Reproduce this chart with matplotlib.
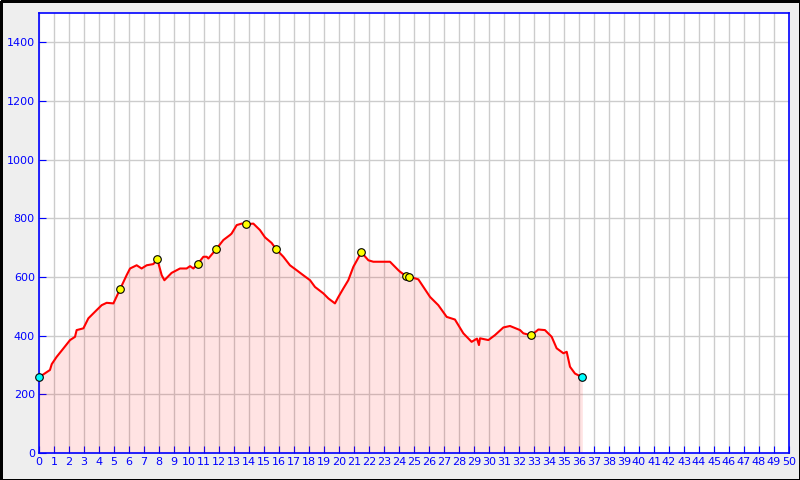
import numpy as np
import matplotlib
matplotlib.use("Agg")
import matplotlib.pyplot as plt
from matplotlib.patches import Rectangle

# elevation profile (km, m)
dist = [0, 0.73, 0.85, 1.18, 1.62, 2.07, 2.4, 2.51, 2.96, 3.29, 3.84, 4.18, 4.51, 4.96,
        5.4, 5.84, 6.07, 6.51, 6.84, 7.18, 7.62, 7.89, 8.18, 8.36, 8.84, 9.4, 9.84,
        10.07, 10.29, 10.6, 10.96, 11.18, 11.29, 11.8, 12.29, 12.73, 12.84, 13.18, 13.51,
        13.82, 14.29, 14.73, 15.07, 15.51, 15.82, 16.29, 16.73, 17.18, 17.62, 18.07,
        18.4, 18.96, 19.29, 19.73, 19.96, 20.29, 20.62, 20.96, 21.49, 21.96, 22.29,
        22.84, 23.4, 23.96, 24.07, 24.47, 24.69, 25.29, 26.07, 26.62, 27.18, 27.73,
        28.29, 28.84, 29.2, 29.33, 29.4, 29.96, 30.4, 30.96, 31.4, 32.07, 32.29, 32.82,
        33.29, 33.73, 34.18, 34.51, 34.96, 35.18, 35.4, 35.73, 36.22]
elev = [258, 283, 303, 328, 356, 385, 396, 419, 425, 459, 487, 504, 512, 510,
        558, 606, 629, 640, 629, 640, 644, 660, 606, 589, 614, 629, 629,
        637, 629, 646, 669, 669, 663, 694, 726, 743, 748, 777, 782,
        780, 782, 760, 735, 716, 694, 669, 640, 623, 606, 589,
        566, 544, 527, 510, 532, 561, 589, 635, 684, 657, 652,
        652, 652, 623, 618, 603, 601, 592, 532, 504, 464, 455,
        408, 379, 390, 368, 391, 385, 402, 428, 433, 419, 408, 401,
        421, 419, 396, 357, 340, 345, 294, 271, 258]

# waypoints
wp_x = [5.4, 7.89, 10.6, 11.8, 13.82, 15.82, 21.49, 24.47, 24.69, 32.82]
wp_y = [558, 660, 646, 694, 780, 694, 684, 603, 601, 401]
end_x = [0, 36.22]
end_y = [258, 258]

fig = plt.figure(figsize=(8, 4.8), dpi=100, facecolor="#eeeeee")
fig.patches.append(Rectangle((0.5/800, 0.5/480), 799/800, 479/480, transform=fig.transFigure,
                             fill=False, edgecolor="black", linewidth=1.0, antialiased=False))
ax = fig.add_axes([39/800, 27/480, 750/800, 440/480])
ax.set_facecolor("white")

ax.fill_between(dist, elev, 0, color="red", alpha=0.11, linewidth=0, zorder=2)
ax.plot(dist, elev, color="red", linewidth=1.5, zorder=3)
ax.scatter(wp_x, wp_y, s=30, color="yellow", edgecolors="black", linewidths=0.8, zorder=4)
ax.scatter(end_x, end_y, s=30, color="cyan", edgecolors="black", linewidths=0.8,
           zorder=4, clip_on=False)

ax.set_xlim(0, 50)
ax.set_ylim(0, 1500)
ax.set_xticks(range(0, 51))
ax.set_yticks(range(0, 1401, 200))
ax.grid(color="#cccccc", linewidth=1, zorder=0)
ax.set_axisbelow(True)
for s in ax.spines.values():
    s.set_color("blue")
    s.set_linewidth(1.2)
ax.tick_params(direction="in", length=5, color="blue", labelcolor="blue",
               labelsize=8, pad=3)

fig.savefig("out.png", dpi=100, facecolor=fig.get_facecolor())
